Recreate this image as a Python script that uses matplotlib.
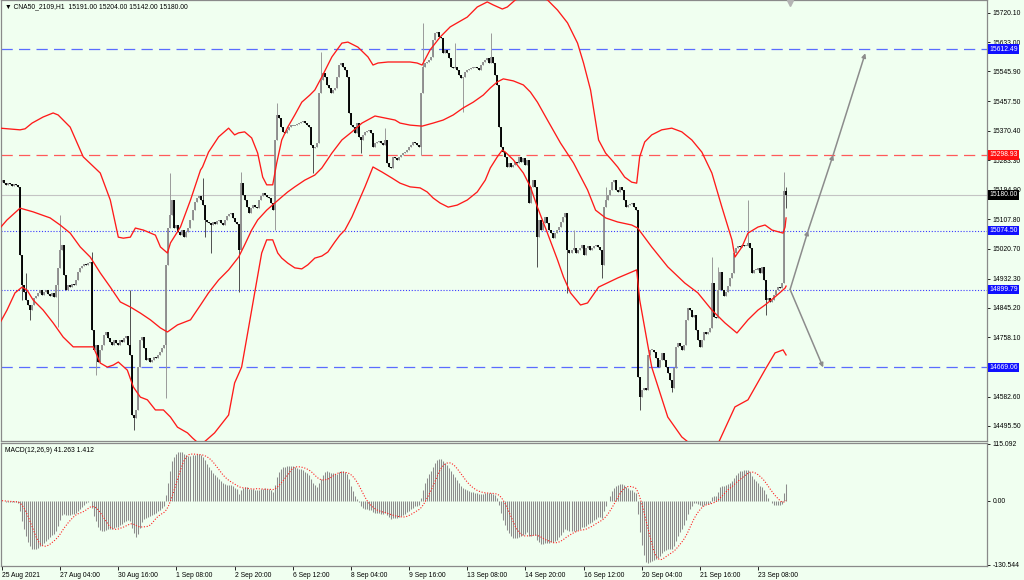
import numpy as np
import pandas as pd
import matplotlib
matplotlib.use("Agg")
import matplotlib.pyplot as plt
from matplotlib.transforms import blended_transform_factory

# ---------------- data ----------------
first_open = 15218
closes = [
15224,15215,15210,15215,15212,15207,15212,15210,15204,15002,
14913,14893,14869,14854,14839,14854,14875,14881,14890,14898,
14884,14893,14898,14887,14881,14890,14878,14913,14964,15017,
15032,14943,14898,14913,14907,14916,14913,14928,14952,14964,
14970,14975,14972,14978,14981,14780,14721,14735,14685,14721,
14735,14765,14774,14756,14744,14735,14750,14741,14735,14750,
14744,14756,14762,14735,14706,14528,14519,14543,14670,14750,
14759,14727,14691,14697,14685,14691,14700,14697,14706,14715,
14727,14735,14972,15082,15121,15165,15082,15091,15070,15061,
15076,15056,15070,15082,15106,15135,15159,15171,15177,15165,
15150,15106,15100,15097,15091,15100,15094,15103,15106,15097,
15091,15106,15118,15124,15127,15112,15100,15094,15017,15215,
15180,15165,15144,15127,15141,15150,15144,15141,15165,15177,
15186,15180,15174,15171,15156,15135,15343,15417,15408,15381,
15367,15364,15372,15381,15387,15387,15387,15390,15393,15396,
15399,15393,15387,15381,15328,15319,15322,15334,15482,15521,
15541,15530,15506,15497,15482,15491,15497,15530,15565,15571,
15559,15550,15530,15423,15387,15381,15364,15393,15352,15343,
15358,15367,15370,15372,15364,15322,15334,15337,15340,15334,
15328,15343,15275,15263,15260,15292,15290,15284,15292,15298,
15304,15307,15313,15322,15328,15337,15334,15328,15322,15482,
15559,15571,15574,15580,15589,15639,15660,15663,15648,15645,
15601,15610,15601,15586,15559,15556,15559,15550,15535,15527,
15530,15544,15550,15553,15556,15559,15559,15556,15550,15565,
15574,15580,15586,15571,15589,15571,15535,15506,15381,15322,
15307,15292,15263,15275,15263,15269,15278,15275,15292,15278,
15290,15269,15284,15156,15204,15224,15204,15056,15106,15076,
15097,15115,15097,15076,15067,15053,15067,15076,15085,15100,
15115,15127,15017,15008,15017,15023,15008,15017,15023,15032,
15002,15023,15029,15017,15023,15029,15032,15026,15017,14972,
15144,15165,15180,15195,15218,15224,15195,15189,15204,15195,
15165,15144,15150,15153,15156,15144,15135,14641,14581,14602,
14608,14602,14706,14721,14721,14715,14697,14670,14691,14712,
14691,14670,14652,14632,14608,14667,14730,14741,14732,14721,
14735,14810,14845,14839,14818,14824,14780,14750,14730,14750,
14774,14768,14774,14786,14919,14818,14815,14898,14952,14898,
14881,14893,14910,14934,14949,15008,15023,15029,15026,15032,
15029,15029,15038,15023,14949,14958,14958,14964,14949,14967,
14928,14869,14875,14863,14869,14884,14898,14907,14904,14919,
15191,15180]

spike_high = {12: 14949, 29: 15121, 45: 15011, 64: 14898, 84: 15245, 100: 15230,
              119: 15248, 137: 15453, 159: 15604, 191: 15379, 210: 15690, 226: 15630,
              244: 15660, 285: 15076, 301: 15204, 354: 14996, 357: 14967, 372: 15165,
              390: 15248, 391: 15204}
spike_low = {10: 14869, 14: 14810, 28: 14789, 47: 14647, 66: 14484, 82: 14578,
             101: 15056, 104: 15008, 118: 14893, 136: 15076, 155: 15245, 179: 15304,
             209: 15298, 230: 15426, 267: 14967, 282: 14890, 299: 14934, 318: 14543,
             334: 14596, 381: 14824, 391: 15142}

# Bollinger band curves (bar position, price)
upper_bar = [-1,9,11.5,15,20.5,25.5,28,34,40.5,49,54,58,60.5,64,66.5,70.5,76.5,79,82.5,84,89,94,99,
             100,103,108,113,116,118,121,124.5,127.5,130,132,135,137,139.5,142.5,146,149.5,153.5,156,
             159.5,164.5,169.5,172.5,177.5,182.5,185,187.5,192.5,198.5,203.5,207,209.5,213.5,218.5,
             223.5,227,232,237,242,245,249.5,252,256,263.5,272,277,282,287,290,293.5,297.5,301,304,
             307,310.5,314,316.5,318,320.5,324,329,334,339,344,349,354,359,364,365.5,369,372,377,
             380.5,384,389.5,390.5,391]
upper_val = [15378,15373,15376,15393,15411,15423,15417,15381,15293,15245,15165,15055,15052,15055,
             15082,15076,15061,15026,15008,15038,15085,15165,15254,15263,15307,15352,15378,15358,
             15364,15367,15349,15304,15233,15210,15210,15275,15343,15381,15417,15455,15476,15491,
             15530,15589,15630,15633,15618,15589,15565,15571,15574,15574,15574,15571,15565,15610,
             15648,15678,15690,15707,15737,15752,15743,15731,15737,15758,15775,15758,15728,15690,
             15630,15571,15491,15343,15304,15284,15263,15233,15218,15215,15293,15337,15358,15373,
             15378,15367,15343,15307,15245,15144,15047,14996,15026,15067,15085,15091,15076,15067,
             15085,15112]
middle_bar = [-1,2.5,9,15.5,24,29,34,39,44,49,54,59,64,69,74,79,82.5,87.5,94,99,103,108,113,118,121,
              124.5,127.5,132,136,139.5,142.5,146,151,156,159.5,164.5,169.5,174.5,179.5,186,191,196,
              198.5,203.5,209.5,215,220,225,230,235,240,243.5,247,250,255,260,263.5,267,272,278.5,
              285,292,296,301,307,314,317,324,332,340.5,347,354,360.5,366.5,372,377,380.5,385.5,
              390.5,391]
middle_val = [15082,15106,15141,15130,15112,15091,15067,15026,14996,14949,14907,14863,14848,14830,
              14810,14786,14774,14795,14810,14854,14890,14928,14958,14996,15032,15076,15106,15135,
              15156,15174,15189,15204,15224,15239,15260,15304,15343,15367,15393,15414,15408,15402,
              15393,15387,15384,15393,15402,15417,15438,15455,15476,15497,15515,15524,15518,15506,
              15485,15455,15402,15334,15275,15195,15135,15112,15100,15091,15082,15026,14967,14919,
              14890,14839,14801,14771,14810,14839,14854,14878,14904,14910]
lower_bar = [-1,2.5,6.5,10,12.5,15.5,20.5,25.5,30.5,35.5,42.5,45.5,49,52.5,55.5,58,62.5,65.5,69,
             72.5,76.5,80.5,84,87.5,92.5,95,99,102,106,113,116,119.5,122.5,126,129.5,132,135,137.5,
             139.5,142.5,146,149.5,152.5,156,159.5,162.5,166,168.5,171,174.5,177.5,181,185,189.5,
             194.5,198.5,203.5,208.5,212,215,218.5,222.5,227,232,237,241,243.5,247,249.5,251,255,
             260,263.5,267,272,277,280,283.5,288.5,292,297.5,307,316.5,318,324,332,339,344,357,
             365.5,372,380.5,385.5,389.5,391]
lower_val = [14801,14839,14890,14907,14898,14869,14839,14801,14759,14730,14730,14730,14682,14670,
             14676,14685,14661,14611,14581,14573,14543,14543,14522,14492,14475,14460,14439,14454,
             14475,14528,14623,14670,14771,14890,15008,15047,15047,15008,14993,14978,14964,14961,
             14973,14993,14999,15011,15041,15061,15076,15115,15156,15204,15263,15248,15230,15215,
             15204,15201,15189,15171,15156,15144,15150,15165,15189,15224,15260,15293,15313,15307,
             15284,15245,15204,15144,15067,14988,14937,14890,14854,14860,14907,14934,14958,14869,
             14670,14522,14463,14439,14442,14552,14573,14662,14712,14721,14706]

level_lines = [15612.49, 15298.93, 15180.00, 15074.50, 14899.79, 14669.06]
price_ticks = [15720.10, 15633.00, 15545.90, 15457.50, 15370.40, 15283.30, 15194.90,
               15107.80, 15020.70, 14932.30, 14845.20, 14758.10, 14582.60, 14495.50]
macd_ticks = [115.092, 0.0, -130.544]
macd_tick_labels = ["115.092", "0.00", "-130.544"]
time_tick_bars = [0, 29, 58, 87, 116, 145, 174, 203, 232, 261, 290, 319, 348, 377]
time_tick_labels = ["25 Aug 2021", "27 Aug 04:00", "30 Aug 16:00", "1 Sep 08:00", "2 Sep 20:00",
                    "6 Sep 12:00", "8 Sep 04:00", "9 Sep 16:00", "13 Sep 08:00", "14 Sep 20:00",
                    "16 Sep 12:00", "20 Sep 04:00", "21 Sep 16:00", "23 Sep 08:00"]
arrow_up_bar = [393, 402, 414.5, 430.5]
arrow_up_price = [14900, 15074.5, 15298.93, 15600]
arrow_down_bar = [393, 409.5]
arrow_down_price = [14900, 14669.06]

header = "\u25bc CNA50_2109,H1  15191.00 15204.00 15142.00 15180.00"
macd_header = "MACD(12,26,9) 41.263 1.412"

# ---------------- figure ----------------
BG = "#F0FFF0"
FS = 4.9
plt.rcParams['font.family'] = ['Liberation Sans', 'DejaVu Sans']
W, H = 1024, 580
fig = plt.figure(figsize=(W / 100, H / 100), dpi=100, facecolor=BG)

def box(l, t, r, b):
    return [l / W, 1 - b / H, (r - l) / W, (b - t) / H]

ax = fig.add_axes(box(1, 0, 987, 441))
axm = fig.add_axes(box(1, 443, 987, 566), sharex=ax)
for a in (ax, axm):
    a.set_facecolor(BG)
    for s in a.spines.values():
        s.set_color("#8a8a8a")
        s.set_linewidth(0.9)

c = np.array(closes, dtype=float)
o = np.concatenate([[first_open], c[:-1]])
idx = np.arange(len(c))
hi = np.maximum(o, c)
lo = np.minimum(o, c)
for k, v in spike_high.items():
    hi[k] = max(hi[k], v)
for k, v in spike_low.items():
    lo[k] = min(lo[k], v)
up = c >= o
bt = np.maximum(o, c)
bb = np.minimum(o, c)
small = (bt - bb) < 3
bt[small] += 1.5
bb[small] -= 1.5

ax.vlines(idx[up], lo[up], hi[up], color="#9a9a9a", lw=0.7, zorder=3)
ax.vlines(idx[~up], lo[~up], hi[~up], color="#505050", lw=0.7, zorder=3)
ax.vlines(idx[up], bb[up], bt[up], color="#8e8e8e", lw=1.35, zorder=4)
ax.vlines(idx[~up], bb[~up], bt[~up], color="#000000", lw=1.35, zorder=4)

# Bollinger bands
for bx, bv in ((upper_bar, upper_val), (middle_bar, middle_val), (lower_bar, lower_val)):
    ax.plot(bx, bv, color="#ff1a1a", lw=0.95, zorder=5)

# horizontal levels
line_styles = {
    15612.49: dict(color="#5a6cff", ls=(0, (9, 5)), lw=0.9),
    15298.93: dict(color="#ff5a5a", ls=(0, (9, 5)), lw=0.9),
    15180.00: dict(color="#c4c4c4", ls="-", lw=0.8),
    15074.50: dict(color="#3a3aff", ls=(0, (1, 1.6)), lw=0.8),
    14899.79: dict(color="#3a3aff", ls=(0, (1, 1.6)), lw=0.8),
    14669.06: dict(color="#5a6cff", ls=(0, (9, 5)), lw=0.9),
}
box_colors = {15612.49: "#1010ff", 15298.93: "#ff1010", 15180.00: "#000000",
              15074.50: "#1010ff", 14899.79: "#1010ff", 14669.06: "#1010ff"}
trans = blended_transform_factory(ax.transAxes, ax.transData)
for lv in level_lines:
    ax.axhline(lv, zorder=2, **line_styles[lv])
    ax.text(1.0 + 2.5 / 986, lv, f"{lv:.2f}", transform=trans, ha="left", va="center",
            fontsize=FS, color="white", zorder=10, clip_on=False,
            bbox=dict(boxstyle="square,pad=0.18", fc=box_colors[lv], ec="none"))

# arrows
acol = "#8c8c8c"
for k in range(len(arrow_up_bar) - 1):
    ax.annotate("", xy=(arrow_up_bar[k + 1], arrow_up_price[k + 1]),
                xytext=(arrow_up_bar[k], arrow_up_price[k]),
                arrowprops=dict(arrowstyle="-|>", color=acol, lw=1.1, mutation_scale=6,
                                shrinkA=0, shrinkB=0), zorder=6)
ax.annotate("", xy=(arrow_down_bar[1], arrow_down_price[1]),
            xytext=(arrow_down_bar[0], arrow_down_price[0]),
            arrowprops=dict(arrowstyle="-|>", color=acol, lw=1.1, mutation_scale=6,
                            shrinkA=0, shrinkB=0), zorder=6)

ax.set_xlim(-0.5, 491.2)
ax.set_ylim(14451.0, 15757.7)
ax.plot([393], [15750], marker="v", color="#b4b4b4", ms=4, zorder=7, clip_on=False)

ax.yaxis.tick_right()
ax.set_yticks(price_ticks)
ax.set_yticklabels([f"{t:.2f}" for t in price_ticks])
ax.tick_params(axis="y", labelsize=FS, length=2.5, width=0.6, pad=1.5, colors="black")
ax.tick_params(axis="x", bottom=False, labelbottom=False)

ax.text(4 / 986, 1 - 7 / 441, header, transform=ax.transAxes, fontsize=FS,
        va="center", ha="left", color="black")

# MACD
s = pd.Series(c)
macd = s.ewm(span=12, adjust=False).mean() - s.ewm(span=26, adjust=False).mean()
signal = macd.rolling(9, min_periods=1).mean()
axm.vlines(idx, 0, macd.values, color="#8c8c8c", lw=0.75, zorder=3)
axm.plot(idx, signal.values, color="#ff2020", lw=0.8, ls=(0, (1, 1.5)), zorder=4)
axm.set_ylim(-132.6, 117.1)
axm.yaxis.tick_right()
axm.set_yticks(macd_ticks)
axm.set_yticklabels(macd_tick_labels)
axm.tick_params(axis="y", labelsize=FS, length=2.5, width=0.6, pad=1.5)
axm.set_xticks(time_tick_bars)
axm.set_xticklabels(time_tick_labels, ha="left")
axm.tick_params(axis="x", labelsize=FS, length=3, width=0.6, pad=1.5)
axm.text(4 / 986, 1 - 7 / 123, macd_header, transform=axm.transAxes, fontsize=FS,
         va="center", ha="left")

fig.savefig("out.png", dpi=100, facecolor=BG)
